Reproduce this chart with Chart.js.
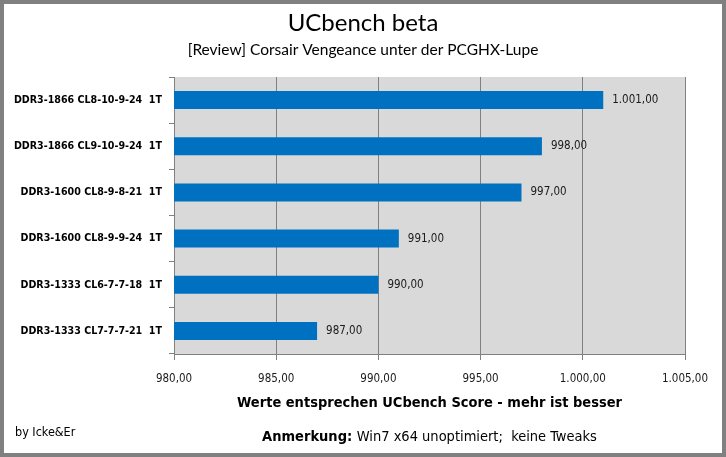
<!DOCTYPE html>
<html>
<head>
<meta charset="utf-8">
<script src="https://cdn.jsdelivr.net/npm/chart.js@4.4.0/dist/chart.umd.min.js"></script>
<style>
  html, body { margin: 0; padding: 0; background: #fff; }
  #frame {
    width: 726px; height: 457px; box-sizing: border-box;
    border: 4px solid #808080; background: #fff;
  }
  #chart { display: block; }
</style>
</head>
<body>
<div id="frame"><canvas id="chart" width="718" height="449"></canvas></div>
<script>
const labels = [
  "DDR3-1866 CL8-10-9-24  1T",
  "DDR3-1866 CL9-10-9-24  1T",
  "DDR3-1600 CL8-9-8-21  1T",
  "DDR3-1600 CL8-9-9-24  1T",
  "DDR3-1333 CL6-7-7-18  1T",
  "DDR3-1333 CL7-7-7-21  1T"
];
const scores = [1001, 998, 997, 991, 990, 987];
const axisMin = 980;
const axisMax = 1005;
const axisStep = 5;

const FONT = "'DejaVu Sans Condensed', 'DejaVu Sans', sans-serif";
const TITLE_FONT = "Lato, 'Open Sans', sans-serif";

// German number format: 1.001,00
function fmt(v) {
  const parts = Number(v).toFixed(2).split(".");
  parts[0] = parts[0].replace(/\B(?=(\d{3})+(?!\d))/g, ".");
  return parts.join(",");
}

// grey plot background
const plotBg = {
  id: "plotBg",
  beforeDraw(chart) {
    const { ctx, chartArea: a } = chart;
    ctx.save();
    ctx.fillStyle = "#d9d9d9";
    ctx.fillRect(a.left, a.top, a.right - a.left, a.bottom - a.top);
    ctx.restore();
  }
};

// titles, values next to bars, footer notes
const extras = {
  id: "extras",
  afterDatasetsDraw(chart) {
    const { ctx } = chart;
    const meta = chart.getDatasetMeta(0);
    ctx.save();
    ctx.font = "11.5px " + FONT;
    ctx.fillStyle = "#1a1a1a";
    ctx.textBaseline = "middle";
    ctx.textAlign = "left";
    meta.data.forEach((bar, i) => {
      ctx.fillText(fmt(scores[i]), bar.x + 9, bar.y);
    });
    ctx.restore();
  },
  afterDraw(chart) {
    const { ctx, chartArea: a } = chart;
    const mid = chart.width / 2;
    ctx.save();
    ctx.fillStyle = "#000";
    ctx.textBaseline = "middle";

    ctx.textAlign = "center";
    ctx.font = "24px " + TITLE_FONT;
    ctx.fillText("UCbench beta", mid, 19);
    ctx.font = "15.5px " + TITLE_FONT;
    ctx.fillText("[Review] Corsair Vengeance unter der PCGHX-Lupe", mid, 46);

    ctx.textAlign = "left";
    ctx.font = "12.5px " + FONT;
    ctx.fillText("by Icke&Er", 11, 429);

    const bold = "Anmerkung: ";
    const rest = "Win7 x64 unoptimiert;  keine Tweaks";
    ctx.font = "bold 14.5px " + FONT;
    const w1 = ctx.measureText(bold).width;
    ctx.font = "14.5px " + FONT;
    const w2 = ctx.measureText(rest).width;
    const cx = (a.left + a.right) / 2;
    const x = cx - (w1 + w2) / 2;
    ctx.font = "bold 14.5px " + FONT;
    ctx.fillText(bold, x, 433);
    ctx.font = "14.5px " + FONT;
    ctx.fillText(rest, x + w1, 433);
    ctx.restore();
  }
};

new Chart(document.getElementById("chart"), {
  type: "bar",
  data: {
    labels: labels,
    datasets: [{
      data: scores,
      backgroundColor: "#0070c0",
      barPercentage: 0.39,
      categoryPercentage: 1
    }]
  },
  options: {
    indexAxis: "y",
    responsive: false,
    animation: false,
    layout: { padding: { left: 0, right: 37, top: 73, bottom: 37 } },
    plugins: {
      legend: { display: false },
      tooltip: { enabled: false }
    },
    scales: {
      x: {
        min: axisMin,
        max: axisMax,
        afterFit(scale) { scale.height = 62; },
        ticks: {
          stepSize: axisStep,
          color: "#1a1a1a",
          font: { family: FONT, size: 11.5 },
          padding: 12,
          callback: v => fmt(v)
        },
        grid: { color: "#808080", lineWidth: 1, tickLength: 6 },
        border: { color: "#808080" },
        title: {
          display: true,
          text: "Werte entsprechen UCbench Score - mehr ist besser",
          color: "#000",
          font: { family: FONT, size: 14.5, weight: "bold" },
          padding: { top: 0, bottom: 4 }
        }
      },
      y: {
        afterFit(scale) { scale.width = 170; },
        ticks: {
          color: "#000",
          font: { family: FONT, size: 10.6, weight: "bold" },
          padding: 7
        },
        grid: { drawOnChartArea: false, color: "#808080", tickLength: 5 },
        border: { color: "#808080" }
      }
    }
  },
  plugins: [plotBg, extras]
});
</script>
</body>
</html>
